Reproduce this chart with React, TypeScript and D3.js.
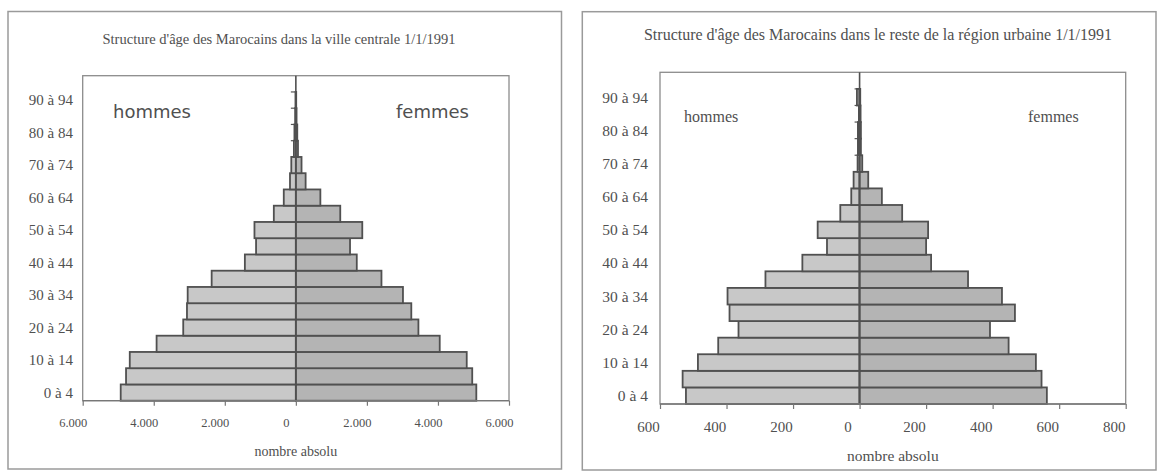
import React, { useEffect, useRef } from 'react';
import * as d3 from 'd3';

const AGES = [
  '0 à 4', '5 à 9', '10 à 14', '15 à 19', '20 à 24', '25 à 29', '30 à 34', '35 à 39', '40 à 44', '45 à 49',
  '50 à 54', '55 à 59', '60 à 64', '65 à 69', '70 à 74', '75 à 79', '80 à 84', '85 à 89', '90 à 94', '95 à 99',
];

// ville centrale
const HOMMES_VILLE = [4930, 4780, 4675, 3920, 3170, 3065, 3045, 2370, 1435, 1120, 1165, 620, 340, 165, 128, 55, 40, 20, 10, 0];
const FEMMES_VILLE = [5080, 4965, 4810, 4050, 3450, 3250, 3015, 2410, 1715, 1525, 1870, 1250, 690, 275, 160, 60, 40, 20, 10, 0];
const TICKS_VILLE = [-6000, -4000, -2000, 0, 2000, 4000, 6000];

// reste de la région urbaine
const HOMMES_RESTE = [522, 532, 486, 425, 364, 391, 397, 283, 172, 98, 126, 58, 25, 18, 6, 5, 5, 2, 8, 0];
const FEMMES_RESTE = [563, 547, 530, 448, 392, 467, 428, 326, 215, 200, 206, 128, 67, 26, 8, 4, 4, 3, 2, 0];
const TICKS_RESTE = [-600, -400, -200, 0, 200, 400, 600, 800];

const TEXT = '#505050';
const SERIF = '"Liberation Serif", "DejaVu Serif", serif';

const fmtDot = d3.formatLocale({ decimal: ',', thousands: '.', grouping: [3], currency: ['', ''] }).format(',');

interface PyramidProps {
  frame: { x: number; y: number; w: number; h: number };
  plot: { l: number; r: number; t: number; b: number };
  title: string;
  titleX: number;
  titleY: number;
  titleSize: number;
  hommes: number[];
  femmes: number[];
  ticks: number[];
  tickFormat: (d: number) => string;
  tickSize: number;
  tickY: number;
  tickDx: number;
  ySize: number;
  yRight: number;
  xTitleY: number;
  xTitleSize: number;
  sexLabels: { font: string; size: number; hx: number; fx: number; y: number };
}

const Pyramid = (p: PyramidProps) => {
  const $x = useRef<SVGGElement>(null);
  const $y = useRef<SVGGElement>(null);

  const x = d3
    .scaleLinear()
    .domain([p.ticks[0], p.ticks[p.ticks.length - 1]])
    .range([p.plot.l, p.plot.r]);
  const y = d3
    .scaleBand()
    .domain(AGES)
    .range([p.plot.b, p.plot.t])
    .padding(0);

  useEffect(() => {
    const xAxis = d3
      .axisBottom(x)
      .tickValues(p.ticks)
      .tickSize(5)
      .tickFormat((d: any) => p.tickFormat(Math.abs(d)));
    const gx = d3.select($x.current);
    gx.selectAll('*').remove();
    gx.call(xAxis as any);
    gx.select('.domain').remove();
    gx.selectAll('line').attr('stroke', '#777').attr('stroke-width', 1.2);
    gx.selectAll('text')
      .attr('fill', TEXT)
      .attr('font-family', SERIF)
      .attr('font-size', p.tickSize)
      .attr('y', p.tickY - p.plot.b)
      .attr('dy', 0)
      .attr('dx', p.tickDx);

    // tick marks of the category axis sit on the centre line
    const gy = d3.select($y.current);
    gy.selectAll('*').remove();
    gy.selectAll('line')
      .data(AGES.slice(1))
      .join('line')
      .attr('x1', x(0) - 5)
      .attr('x2', x(0))
      .attr('y1', (d) => (y(d) as number) + y.bandwidth())
      .attr('y2', (d) => (y(d) as number) + y.bandwidth())
      .attr('stroke', '#555')
      .attr('stroke-width', 1.2);
  }, [p, x, y]);

  return (
    <g>
      <rect x={p.frame.x} y={p.frame.y} width={p.frame.w} height={p.frame.h} fill="none" stroke="#9a9a9a" strokeWidth={1.5} />
      <text x={p.titleX} y={p.titleY} textAnchor="middle" fontFamily={SERIF} fontSize={p.titleSize} fill={TEXT}>
        {p.title}
      </text>
      <rect
        x={p.plot.l}
        y={p.plot.t}
        width={p.plot.r - p.plot.l}
        height={p.plot.b - p.plot.t}
        fill="none"
        stroke="#8c8c8c"
        strokeWidth={1.3}
      />
      <g ref={$y} />
      {AGES.map((a, i) => (
        <g key={a}>
          {p.hommes[i] > 0 && (
            <rect
              x={x(-p.hommes[i])}
              y={y(a)}
              width={x(0) - x(-p.hommes[i])}
              height={y.bandwidth()}
              fill="#c8c8c8"
              stroke="#505050"
              strokeWidth={1.8}
            />
          )}
          {p.femmes[i] > 0 && (
            <rect
              x={x(0)}
              y={y(a)}
              width={x(p.femmes[i]) - x(0)}
              height={y.bandwidth()}
              fill="#b4b4b4"
              stroke="#505050"
              strokeWidth={1.8}
            />
          )}
        </g>
      ))}
      <line x1={x(0)} x2={x(0)} y1={p.plot.t} y2={p.plot.b} stroke="#505050" strokeWidth={1.6} />
      <line x1={p.plot.l} x2={p.plot.r} y1={p.plot.b} y2={p.plot.b} stroke="#777" strokeWidth={1.3} />
      <g ref={$x} transform={`translate(0, ${p.plot.b})`} />
      {AGES.filter((_, i) => i % 2 === 0).map((a) => (
        <text
          key={a}
          x={p.yRight}
          y={(y(a) as number) + y.bandwidth() / 2}
          dy="0.35em"
          textAnchor="end"
          fontFamily={SERIF}
          fontSize={p.ySize}
          fill={TEXT}
        >
          {a}
        </text>
      ))}
      <text
        x={(p.plot.l + p.plot.r) / 2}
        y={p.xTitleY}
        textAnchor="middle"
        fontFamily={SERIF}
        fontSize={p.xTitleSize}
        fill={TEXT}
      >
        nombre absolu
      </text>
      <text x={p.sexLabels.hx} y={p.sexLabels.y} fontFamily={p.sexLabels.font} fontSize={p.sexLabels.size} fill={TEXT}>
        hommes
      </text>
      <text x={p.sexLabels.fx} y={p.sexLabels.y} fontFamily={p.sexLabels.font} fontSize={p.sexLabels.size} fill={TEXT}>
        femmes
      </text>
    </g>
  );
};

const App = () => {
  return (
    <svg
      width={1159}
      height={473}
      viewBox="0 0 1159 473"
      style={{ position: 'absolute', left: 0, top: 0, background: '#fff' }}
    >
      <Pyramid
        frame={{ x: 8, y: 11.5, w: 553.5, h: 457.5 }}
        plot={{ l: 82.7, r: 509, t: 75.7, b: 400.7 }}
        title="Structure d'âge des Marocains dans la ville centrale 1/1/1991"
        titleX={279}
        titleY={43.5}
        titleSize={14.5}
        hommes={HOMMES_VILLE}
        femmes={FEMMES_VILLE}
        ticks={TICKS_VILLE}
        tickFormat={(d) => fmtDot(d)}
        tickSize={12.5}
        tickY={427.5}
        tickDx={-10}
        ySize={15}
        yRight={73}
        xTitleY={456}
        xTitleSize={14}
        sexLabels={{ font: '"DejaVu Sans", sans-serif', size: 18, hx: 113, fx: 396, y: 118 }}
      />
      <Pyramid
        frame={{ x: 582.3, y: 11.7, w: 573.7, h: 458.3 }}
        plot={{ l: 660, r: 1125.7, t: 72.3, b: 404 }}
        title="Structure d'âge des Marocains dans le reste de la région urbaine 1/1/1991"
        titleX={878}
        titleY={40}
        titleSize={16}
        hommes={HOMMES_RESTE}
        femmes={FEMMES_RESTE}
        ticks={TICKS_RESTE}
        tickFormat={(d) => String(d)}
        tickSize={15}
        tickY={431.5}
        tickDx={-12}
        ySize={15.5}
        yRight={648}
        xTitleY={461}
        xTitleSize={15.5}
        sexLabels={{ font: SERIF, size: 16, hx: 684, fx: 1028, y: 121.5 }}
      />
    </svg>
  );
};

export default App;
